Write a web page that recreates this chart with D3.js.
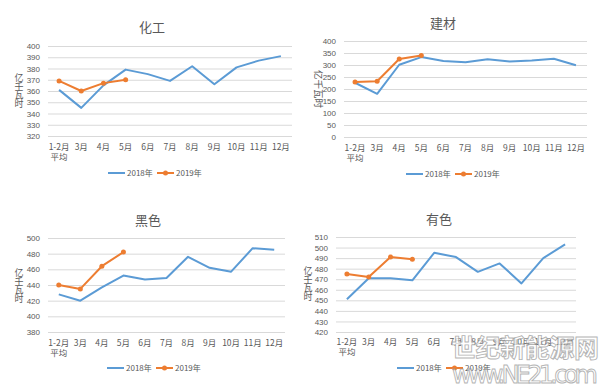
<!DOCTYPE html>
<html>
<head>
<meta charset="utf-8">
<script src="https://cdn.jsdelivr.net/npm/d3@7"></script>
<style>
  body { margin: 0; background: #fff; }
  text { font-family: "Noto Sans CJK SC", "Noto Sans", sans-serif; fill: #595959; }
</style>
</head>
<body>
<div id="chart"></div>
<script>
const months = ['1-2月', '3月', '4月', '5月', '6月', '7月', '8月', '9月', '10月', '11月', '12月']
const seriesNames = ['2018年', '2019年']
const unitLabel = '亿千瓦时'

const titles = ['化工', '建材', '黑色', '有色']

const chem2018 = [361, 345, 365, 379, 375, 369, 382, 366, 381, 387, 391]
const chem2019 = [369, 360, 367, 370]
const build2018 = [226, 180, 301, 333, 317, 311, 324, 315, 319, 326, 299]
const build2019 = [229, 232, 325, 340]
const ferrous2018 = [428, 420, 437, 452, 447, 449, 476, 462, 457, 487, 485]
const ferrous2019 = [440, 435, 464, 482]
const nonferrous2018 = [451, 471, 471, 469, 495, 491, 477, 485, 466, 490, 503]
const nonferrous2019 = [475, 472, 491, 489]

const chemTicks = [320, 330, 340, 350, 360, 370, 380, 390, 400]
const buildTicks = [0, 50, 100, 150, 200, 250, 300, 350, 400]
const ferrousTicks = [380, 400, 420, 440, 460, 480, 500]
const nonferrousTicks = [420, 430, 440, 450, 460, 470, 480, 490, 500, 510]

const colors = ['#5b9bd5', '#ed7d31']

// layout of the four panels (pixel boxes)
const panels = [
  { title: titles[0], s18: chem2018, s19: chem2019, ticks: chemTicks,
    x0: 48, x1: 292, yTop: 46, yBot: 136, titleX: 152, titleY: 32,
    unitX: 19, unitY: 78, rotated: false, xlabY: 150, legY: 173, legX: 108 },
  { title: titles[1], s18: build2018, s19: build2019, ticks: buildTicks,
    x0: 344, x1: 587, yTop: 41, yBot: 137, titleX: 443, titleY: 28,
    unitX: 315, unitY: 89, rotated: true, xlabY: 151, legX: 406, legY: 174 },
  { title: titles[2], s18: ferrous2018, s19: ferrous2019, ticks: ferrousTicks,
    x0: 48, x1: 285, yTop: 238, yBot: 332, titleX: 148, titleY: 225,
    unitX: 19, unitY: 273, rotated: false, xlabY: 346, legX: 107, legY: 368 },
  { title: titles[3], s18: nonferrous2018, s19: nonferrous2019, ticks: nonferrousTicks,
    x0: 336, x1: 576, yTop: 237, yBot: 332, titleX: 439, titleY: 224,
    unitX: 308, unitY: 271, rotated: false, xlabY: 345, legX: 397, legY: 368 }
]

const svg = d3.select('#chart')
  .append('svg')
  .attr('width', 605)
  .attr('height', 388)

panels.forEach(p => drawPanel(p))

function drawPanel (p) {
  const g = svg.append('g')
  const x = d3.scalePoint().domain(months).range([p.x0, p.x1]).padding(0.5)
  const y = d3.scaleLinear()
    .domain(d3.extent(p.ticks))
    .range([p.yBot, p.yTop])

  // gridlines + y labels
  const yAxis = g.append('g')
    .attr('transform', `translate(${p.x0},0)`)
    .call(d3.axisLeft(y).tickValues(p.ticks).tickSize(-(p.x1 - p.x0)).tickPadding(8))
  yAxis.select('.domain').remove()
  yAxis.selectAll('line').attr('stroke', '#d9d9d9').attr('stroke-width', 1)
  yAxis.selectAll('text').attr('font-size', 8).attr('fill', '#595959')
    .style('font-family', '"Liberation Sans", sans-serif')

  // x labels
  g.append('g')
    .selectAll('text')
    .data(months)
    .enter()
    .append('text')
    .attr('x', d => x(d))
    .attr('y', p.xlabY)
    .attr('text-anchor', 'middle')
    .attr('font-size', 8.5)
    .text(d => d)
  g.append('text')
    .attr('x', x(months[0]))
    .attr('y', p.xlabY + 10)
    .attr('text-anchor', 'middle')
    .attr('font-size', 8.5)
    .text('平均')

  // title
  g.append('text')
    .attr('x', p.titleX)
    .attr('y', p.titleY)
    .attr('text-anchor', 'middle')
    .attr('font-size', 13)
    .text(p.title)

  // unit label
  if (p.rotated) {
    g.append('text')
      .attr('transform', `translate(${p.unitX},${p.unitY}) rotate(90)`)
      .attr('text-anchor', 'middle')
      .attr('font-size', 9.5)
      .text(unitLabel)
  } else {
    g.append('g')
      .selectAll('text')
      .data(unitLabel.split(''))
      .enter()
      .append('text')
      .attr('x', p.unitX)
      .attr('y', (d, i) => p.unitY + 3 + i * 8.7)
      .attr('text-anchor', 'middle')
      .attr('font-size', 9)
      .text(d => d)
  }

  const line = d3.line()
    .x((d, i) => x(months[i]))
    .y(d => y(d))

  g.append('path')
    .datum(p.s18)
    .attr('d', line)
    .attr('fill', 'none')
    .attr('stroke', colors[0])
    .attr('stroke-width', 2)
    .attr('stroke-linejoin', 'round')

  g.append('path')
    .datum(p.s19)
    .attr('d', line)
    .attr('fill', 'none')
    .attr('stroke', colors[1])
    .attr('stroke-width', 2)
    .attr('stroke-linejoin', 'round')

  g.append('g')
    .selectAll('circle')
    .data(p.s19)
    .enter()
    .append('circle')
    .attr('cx', (d, i) => x(months[i]))
    .attr('cy', d => y(d))
    .attr('r', 2.5)
    .attr('fill', colors[1])

  // legend
  const leg = g.append('g').attr('transform', `translate(${p.legX},${p.legY})`)
  leg.append('line').attr('x1', 0).attr('x2', 17).attr('stroke', colors[0]).attr('stroke-width', 2)
  leg.append('text').attr('x', 19).attr('y', 3).attr('font-size', 8).text(seriesNames[0])
  leg.append('line').attr('x1', 49).attr('x2', 66).attr('stroke', colors[1]).attr('stroke-width', 2)
  leg.append('circle').attr('cx', 57.5).attr('r', 2.5).attr('fill', colors[1])
  leg.append('text').attr('x', 68).attr('y', 3).attr('font-size', 8).text(seriesNames[1])
}

// site watermark
const wm = svg.append('g').attr('opacity', 0.75)
wm.append('text')
  .attr('x', 451)
  .attr('y', 357)
  .attr('font-size', 25)
  .attr('font-weight', 'bold')
  .attr('textLength', 148)
  .style('fill', '#fff')
  .attr('stroke', '#9a9a9a')
  .attr('stroke-width', 0.9)
  .text('世纪新能源网')
wm.append('text')
  .attr('x', 452)
  .attr('y', 383)
  .attr('font-size', 24)
  .attr('textLength', 146)
  .style('fill', '#fff')
  .style('font-family', '"DejaVu Sans", sans-serif')
  .attr('stroke', '#9a9a9a')
  .attr('stroke-width', 0.9)
  .text('www.NE21.com')
</script>
</body>
</html>
